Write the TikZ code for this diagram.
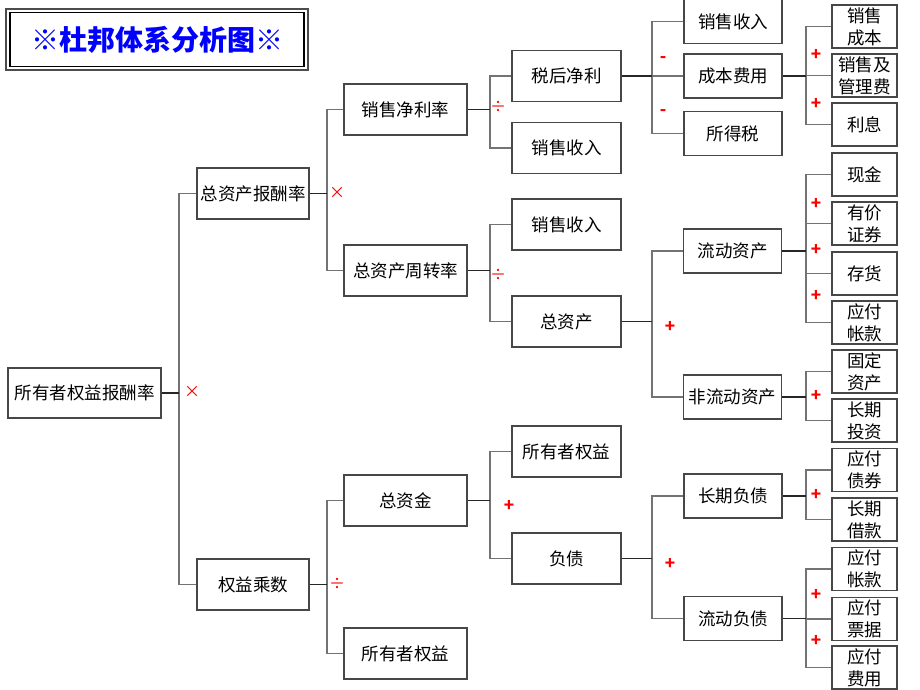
\documentclass[tikz,border=0pt]{standalone}
\usepackage{fontspec}
\setmainfont{Noto Sans CJK SC}
\newfontfamily\cjk{Noto Sans CJK SC}
\begin{document}
\begin{tikzpicture}[x=1pt,y=-1pt,
  box/.style={draw=black!72, line width=1.2pt, fill=white, inner sep=0pt, align=center,
    font=\cjk\fontsize{17.5}{22}\selectfont},
  bw1/.style={box, minimum width=112pt, minimum height=51pt},
  bw2/.style={box, minimum width=123pt, minimum height=51pt},
  bw3/.style={box, minimum width=109pt, minimum height=51pt},
  bw4/.style={box, minimum width=98pt, minimum height=44pt},
  bw5/.style={box, minimum width=65pt, minimum height=43pt},
  pline/.style={draw=black!85, line width=1.5pt},
  cline/.style={draw=black!55, line width=1.3pt},
  op/.style={text=red, font=\cjk\fontsize{16}{16}\selectfont, inner sep=0pt},
  opb/.style={text=red, font=\cjk\bfseries\fontsize{17}{17}\selectfont, inner sep=0pt}
]
\useasboundingbox (0,0) rectangle (920,690);
\fill[white] (0,0) rectangle (920,690);
% title
\node[draw=black!70, line width=2pt, minimum width=302pt, minimum height=61pt, inner sep=0pt] (tout) at (157,39.5) {};
\node[draw=black, line width=1.4pt, minimum width=294pt, minimum height=54pt, inner sep=0pt,
  text=blue, font=\cjk\bfseries\fontsize{28}{28}\selectfont] (title) at (157,39.5) {※杜邦体系分析图※};

% nodes
\node[box, minimum width=153pt, minimum height=50pt] (root) at (84.5,393) {所有者权益报酬率};
\node[bw1] (a1) at (253,193.5) {总资产报酬率};
\node[bw1] (a2) at (253,584.5) {权益乘数};
\node[bw2] (b1) at (405.5,109.5) {销售净利率};
\node[bw2] (b2) at (405.5,270.5) {总资产周转率};
\node[bw2] (b3) at (405.5,500.5) {总资金};
\node[bw2] (b4) at (405.5,653.5) {所有者权益};
\node[bw3] (c1) at (566.5,76) {税后净利};
\node[bw3] (c2) at (566.5,148) {销售收入};
\node[bw3] (c3) at (566.5,224.5) {销售收入};
\node[bw3] (c4) at (566.5,321.5) {总资产};
\node[bw3] (c5) at (566.5,451.5) {所有者权益};
\node[bw3] (c6) at (566.5,558.5) {负债};
\node[bw4] (d1) at (733,21.5) {销售收入};
\node[bw4] (d2) at (733,76) {成本费用};
\node[bw4] (d3) at (733,133.5) {所得税};
\node[bw4] (d4) at (732.5,251) {流动资产};
\node[bw4] (d5) at (732.5,397) {非流动资产};
\node[bw4] (d6) at (733,496) {长期负债};
\node[bw4] (d7) at (733,618.5) {流动负债};
\node[bw5] (e1) at (864.5,26.5) {销售\\成本};
\node[bw5] (e2) at (864.5,75.5) {销售及\\管理费};
\node[bw5] (e3) at (864.5,124.5) {利息};
\node[bw5] (e4) at (864.5,174.5) {现金};
\node[bw5] (e5) at (864.5,223.5) {有价\\证券};
\node[bw5] (e6) at (864.5,273.5) {存货};
\node[bw5] (e7) at (864.5,322.5) {应付\\帐款};
\node[bw5] (e8) at (864.5,371.5) {固定\\资产};
\node[bw5] (e9) at (864.5,420.5) {长期\\投资};
\node[bw5] (e10) at (864.5,470) {应付\\债券};
\node[bw5] (e11) at (864.5,519.5) {长期\\借款};
\node[bw5] (e12) at (864.5,569) {应付\\帐款};
\node[bw5] (e13) at (864.5,619) {应付\\票据};
\node[bw5] (e14) at (864.5,667.5) {应付\\费用};

% junctions
\coordinate (j0) at (179,393);
\coordinate (j1) at (327,193.5);
\coordinate (j2) at (327,584.5);
\coordinate (j3) at (490,109.5);
\coordinate (j4) at (490,270.5);
\coordinate (j5) at (490,500.5);
\coordinate (j6) at (652,76);
\coordinate (j7) at (652,321.5);
\coordinate (j8) at (652,558.5);
\coordinate (j9) at (806,76);
\coordinate (j10) at (806,251);
\coordinate (j11) at (806,397);
\coordinate (j12) at (806,496);
\coordinate (j13) at (806,618.5);

% connectors
\draw[cline] (j0) |- (a1.west); \draw[cline] (j0) |- (a2.west);
\draw[pline] (root.east) -- (j0);
\draw[cline] (j1) |- (b1.west); \draw[cline] (j1) |- (b2.west);
\draw[pline] (a1.east) -- (j1);
\draw[cline] (j2) |- (b3.west); \draw[cline] (j2) |- (b4.west);
\draw[pline] (a2.east) -- (j2);
\draw[cline] (j3) |- (c1.west); \draw[cline] (j3) |- (c2.west);
\draw[pline] (b1.east) -- (j3);
\draw[cline] (j4) |- (c3.west); \draw[cline] (j4) |- (c4.west);
\draw[pline] (b2.east) -- (j4);
\draw[cline] (j5) |- (c5.west); \draw[cline] (j5) |- (c6.west);
\draw[pline] (b3.east) -- (j5);
\draw[cline] (j6) |- (d1.west); \draw[cline] (j6) |- (d2.west); \draw[cline] (j6) |- (d3.west);
\draw[pline] (c1.east) -- (j6);
\draw[cline] (j7) |- (d4.west); \draw[cline] (j7) |- (d5.west);
\draw[pline] (c4.east) -- (j7);
\draw[cline] (j8) |- (d6.west); \draw[cline] (j8) |- (d7.west);
\draw[pline] (c6.east) -- (j8);
\draw[cline] (j9) |- (e1.west); \draw[cline] (j9) |- (e2.west); \draw[cline] (j9) |- (e3.west);
\draw[pline] (d2.east) -- (j9);
\draw[cline] (j10) |- (e4.west); \draw[cline] (j10) |- (e5.west); \draw[cline] (j10) |- (e6.west); \draw[cline] (j10) |- (e7.west);
\draw[pline] (d4.east) -- (j10);
\draw[cline] (j11) |- (e8.west); \draw[cline] (j11) |- (e9.west);
\draw[pline] (d5.east) -- (j11);
\draw[cline] (j12) |- (e10.west); \draw[cline] (j12) |- (e11.west);
\draw[pline] (d6.east) -- (j12);
\draw[cline] (j13) |- (e12.west); \draw[cline] (j13) |- (e13.west); \draw[cline] (j13) |- (e14.west);
\draw[pline] (d7.east) -- (j13);

% operators
\node[op] (o1) at (192,392) {×};
\node[op] (o2) at (337,193) {×};
\node[op] (o3) at (337,584) {÷};
\node[op] (o4) at (498,107) {÷};
\node[op] (o5) at (498,275) {÷};
\node[opb] (o6) at (509,506) {+};
\node[opb] (o7) at (663,60) {-};
\node[opb] (o8) at (663,113) {-};
\node[opb] (o9) at (670,327) {+};
\node[opb] (o10) at (670,564) {+};
\node[opb] (o11) at (816,55) {+};
\node[opb] (o12) at (816,104) {+};
\node[opb] (o13) at (816,204) {+};
\node[opb] (o14) at (816,250) {+};
\node[opb] (o15) at (816,296) {+};
\node[opb] (o16) at (816,396) {+};
\node[opb] (o17) at (816,495) {+};
\node[opb] (o18) at (816,595) {+};
\node[opb] (o19) at (816,641) {+};
\end{tikzpicture}
\end{document}
